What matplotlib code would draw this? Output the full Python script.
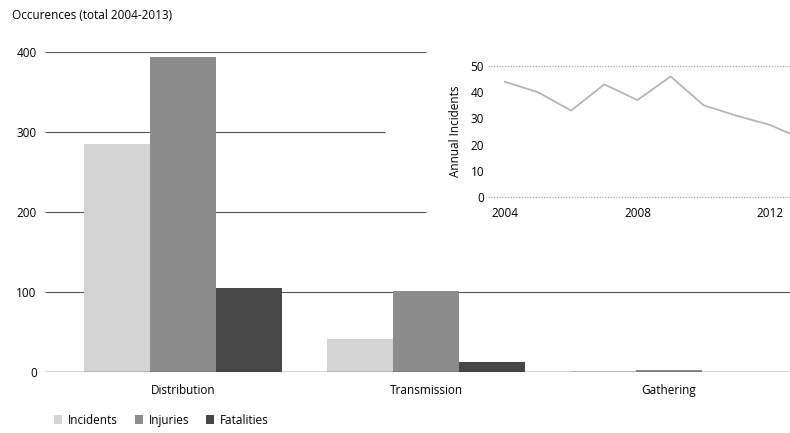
import numpy as np
import matplotlib
matplotlib.use("Agg")
import matplotlib.pyplot as plt
from matplotlib.patches import Patch

plt.rcParams.update({
    "font.family": ["Open Sans", "DejaVu Sans"],
    "font.size": 8.5,
})

# ── data ──────────────────────────────────────────────────────────────────────
categories = ["Distribution", "Transmission", "Gathering"]
incidents = [285, 41, 1]
injuries = [394, 101, 3]
fatalities = [105, 12, 0]

years = [2004, 2005, 2006, 2007, 2008, 2009, 2010, 2011, 2012, 2013]
annual_incidents = [44, 40, 33, 43, 37, 46, 35, 31, 27.5, 22]

series = [("Incidents", incidents, "#d4d4d4"),
          ("Injuries", injuries, "#8c8c8c"),
          ("Fatalities", fatalities, "#474747")]

# ── main bar chart ────────────────────────────────────────────────────────────
fig = plt.figure(figsize=(7.9, 4.33), dpi=100)
ax = fig.add_axes([0.057, 0.141, 0.943, 0.739])

x = np.arange(len(categories))
w = 0.272
for i, (name, vals, col) in enumerate(series):
    ax.bar(x + (i - 1) * w, vals, w, color=col, label=name, zorder=2, linewidth=0)

# gridlines stop where the inset begins
grid_right = {100: 2.5, 200: 1.0, 300: 0.83, 400: 1.0}
for yv, xr in grid_right.items():
    ax.hlines(yv, -0.57, xr, color="#555555", lw=0.8, zorder=1)
ax.hlines(0, -0.57, 2.5, color="#333333", lw=1.0, zorder=3)

ax.set_xlim(-0.57, 2.5)
ax.set_ylim(0, 400)
ax.set_yticks([0, 100, 200, 300, 400])
ax.set_xticks(x)
ax.set_xticklabels(categories)
ax.tick_params(length=0, pad=6)
ax.tick_params(axis="x", pad=9)
for s in ax.spines.values():
    s.set_visible(False)

fig.text(0.015, 0.965, "Occurences (total 2004-2013)", ha="left", va="center", fontsize=8.5)

handles = [Patch(facecolor=c, edgecolor="none") for _, _, c in series]
fig.legend(handles, [n for n, _, _ in series], loc="center left",
           bbox_to_anchor=(0.055, 0.03), ncol=3, frameon=False,
           handlelength=0.7, handleheight=0.7, handletextpad=0.5, columnspacing=1.4)

# ── inset line chart ──────────────────────────────────────────────────────────
ins = fig.add_axes([0.618, 0.545, 0.382, 0.3025])
ins.plot(years, annual_incidents, color="#b5b5b5", lw=1.3, zorder=2)
for yv in (0, 50):
    ins.axhline(yv, color="#999999", lw=0.8, ls=(0, (1, 1.5)), zorder=1, clip_on=False)
ins.set_xlim(2003.5, 2012.6)
ins.set_ylim(0, 50)
ins.set_yticks([0, 10, 20, 30, 40, 50])
ins.set_xticks([2004, 2008, 2012])
ins.set_ylabel("Annual Incidents", labelpad=6)
ins.tick_params(length=0, pad=3)
ins.tick_params(axis="x", pad=7)
ins.patch.set_alpha(0)
for s in ins.spines.values():
    s.set_visible(False)

fig.savefig("out.png", dpi=100)
